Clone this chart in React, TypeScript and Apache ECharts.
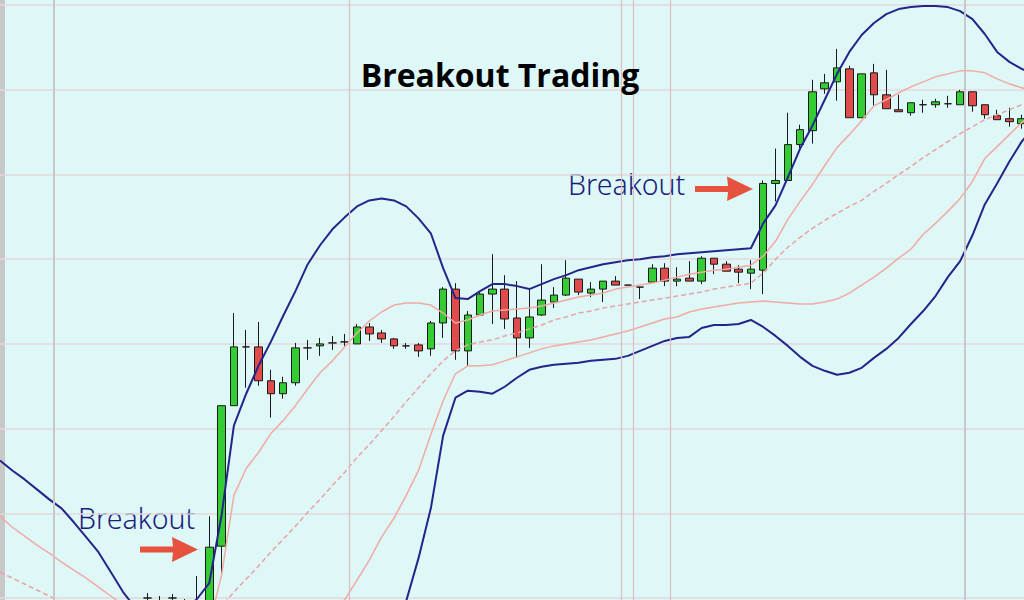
import { useEffect, useRef } from "react";
import * as echarts from "echarts";

// Categories (trading sessions); candles start at session index 12
const categories: string[] = Array.from({ length: 85 }, (_, i) => `S${i + 1}`);
const FIRST_CANDLE = 12;

// Candles: [open, close, low, high] in price points
const candles: number[][] = [
  [0, 0, -6, 5], [-3, -3, -10, 2], [0, 0, -7, 4], [-6, -6, -14, -1], [-12, -5, -18, 22],
  [-17, 51, -22, 82], [52, 193, 24, 193], [193, 252, 193, 286], [252, 252, 211, 269], [252, 218, 213, 277],
  [218, 205, 181, 229], [205, 216, 200, 222], [216, 251, 213, 256], [251, 251, 239, 259], [253, 255, 243, 261],
  [256, 256, 249, 263], [257, 257, 253, 265], [255, 272, 255, 275], [272, 265, 258, 276], [266, 260, 256, 269],
  [260, 253, 250, 261], [253, 253, 250, 256], [254, 248, 242, 256], [250, 276, 243, 278], [276, 310, 261, 312],
  [310, 248, 239, 316], [248, 284, 232, 288], [284, 305, 283, 308], [305, 310, 275, 345], [310, 280, 270, 324],
  [281, 261, 241, 318], [261, 282, 251, 310], [284, 299, 283, 335], [297, 304, 291, 312], [304, 321, 303, 339],
  [320, 307, 304, 320], [306, 310, 302, 317], [310, 318, 297, 318], [318, 314, 314, 323], [314, 314, 314, 314],
  [312, 312, 300, 312], [317, 331, 317, 335], [331, 318, 313, 336], [318, 320, 313, 332], [321, 318, 318, 338],
  [318, 341, 315, 343], [341, 335, 325, 341], [335, 328, 328, 338], [330, 327, 316, 334], [326, 330, 310, 339],
  [329, 416, 305, 419], [416, 419, 398, 451], [419, 455, 419, 487], [455, 470, 450, 475], [469, 508, 456, 520],
  [511, 517, 506, 526], [518, 532, 499, 551], [531, 482, 482, 534], [482, 526, 482, 526], [527, 505, 493, 536],
  [505, 491, 491, 530], [490, 488, 488, 505], [487, 497, 484, 497], [495, 495, 487, 500], [495, 498, 492, 501],
  [496, 496, 492, 504], [495, 508, 495, 510], [508, 494, 488, 508], [495, 485, 481, 495], [484, 480, 480, 490],
  [481, 478, 473, 492], [476, 481, 471, 485],
];

// Bollinger bands (outer = navy, inner = pink, middle = dashed)
const upperBand = [138,128,119,109,99,90,76,61,46,26,6,-10,-22,-26,-22,-12,-1,15,83,173,205,233,257,283,308,335,354,370,382,393,399,401,399,393,381,366,331,301,300,308,315,315,313,310,315,320,324,329,332,335,337,339,340,342,343,345,346,347,348,349,350,351,376,394,422,451,474,500,526,548,565,577,586,591,593,594,594,593,589,581,566,548,538,531,526];
const upperInner = [82,71,62,53,45,36,28,20,11,2,-7,-17,-27,-35,-40,-42,-38,-27,23,103,130,146,165,178,193,210,226,238,252,266,278,287,294,296,296,294,286,276,279,284,288,289,290,291,293,296,299,302,304,306,310,312,314,316,319,322,325,327,329,330,332,334,343,358,380,398,415,434,452,465,479,494,500,507,513,518,523,526,529,529,527,521,516,512,509];
const middleBand = [26,20,14,8,2,-4,-10,-16,-22,-28,-34,-40,-46,-52,-56,-58,-54,-32,-8,6,19,32,46,59,72,86,99,113,126,141,154,168,182,197,211,225,238,248,254,257,259,263,266,270,274,279,282,286,288,291,293,295,297,299,301,303,305,307,310,312,314,316,326,340,352,362,371,379,386,393,399,408,416,425,433,442,450,458,466,473,480,485,490,495,499];
const lowerInner = [-30,-32,-34,-37,-41,-44,-48,-52,-55,-58,-61,-63,-65,-69,-72,-74,-70,-62,-52,-47,-42,-37,-32,-27,-22,-17,-12,-7,-2,18,38,61,80,103,128,164,198,225,233,233,234,238,242,246,250,253,255,257,259,262,265,268,272,276,280,282,287,290,292,294,296,297,298,297,296,295,295,297,300,306,314,322,331,341,350,365,376,388,401,418,441,453,465,477,488];
const lowerBand = [-102,-107,-112,-117,-122,-127,-132,-137,-142,-147,-152,-157,-162,-167,-170,-172,-170,-167,-162,-157,-152,-147,-142,-137,-132,-127,-122,-117,-112,-107,-102,-92,-47,-3,40,90,163,201,208,207,205,212,221,229,232,234,235,236,238,239,240,243,248,253,258,261,262,271,274,274,275,279,272,263,253,242,233,228,224,226,231,241,250,261,275,288,303,322,338,364,395,416,438,458,473];

// Vertical grid lines (session positions) and their kind
const vGridAt = [4.39, 28.35, 50.45, 51.42, 54.43, 78.39];
const vGridKind = ["grey", "pink", "pink", "pink", "pink", "grey"];

const TITLE = "Breakout Trading";
const ANNOTATION = "Breakout";

export default function App() {
  const ref = useRef<HTMLDivElement>(null);
  useEffect(() => {
    const chart = echarts.init(ref.current!, undefined, { renderer: "svg" });
    const candleData: any[] = [...Array(FIRST_CANDLE).fill("-"), ...candles];
    const navy = "#24248a";
    const pink = "#f2aaa3";
    const annotationStyle = {
      text: ANNOTATION,
      fontFamily: "Noto Sans",
      fontWeight: 300,
      fontSize: 28.5,
      fill: "#1c1d7c",
      align: "left",
      verticalAlign: "middle",
    };
    const option: any = {
      animation: false,
      backgroundColor: "#def7f7",
      title: {
        text: TITLE,
        left: 500,
        top: 58,
        textAlign: "center",
        padding: 0,
        textStyle: { fontFamily: "Open Sans", fontWeight: "bold", fontSize: 32, color: "#000" },
      },
      grid: { left: 0, top: -79.6, width: 1034, height: 762.3, outerBoundsMode: "none", containLabel: false },
      xAxis: [
        { type: "category", data: categories, boundaryGap: false, show: false },
        { type: "value", min: 0, max: 84, show: false },
      ],
      yAxis: {
        type: "value",
        min: -85,
        max: 680,
        interval: 85,
        axisLine: { show: false },
        axisTick: { show: false },
        axisLabel: { show: false },
        splitLine: { show: true, lineStyle: { color: "#e3d9db", width: 1.5 } },
      },
      series: [
        {
          type: "line",
          xAxisIndex: 1,
          data: [],
          silent: true,
          markLine: {
            silent: true,
            symbol: "none",
            label: { show: false },
            data: vGridAt.map((x, k) => ({
              xAxis: x,
              lineStyle:
                vGridKind[k] === "grey"
                  ? { color: "#cbc6c8", width: 2, type: "solid" }
                  : { color: "#dcbfc3", width: 1.2, type: "solid" },
            })),
          },
        },
        {
          type: "candlestick",
          data: candleData,
          barWidth: 8,
          z: 2,
          itemStyle: {
            color: "#33cc33",
            color0: "#e04b4b",
            borderColor: "#1a1a1a",
            borderColor0: "#1a1a1a",
            borderWidth: 1,
          },
        },
        { type: "line", data: upperBand, symbol: "none", z: 3, lineStyle: { color: navy, width: 2 } },
        { type: "line", data: lowerBand, symbol: "none", z: 3, lineStyle: { color: navy, width: 2 } },
        { type: "line", data: upperInner, symbol: "none", z: 3, lineStyle: { color: pink, width: 1.5 } },
        { type: "line", data: lowerInner, symbol: "none", z: 3, lineStyle: { color: pink, width: 1.5 } },
        {
          type: "line",
          data: middleBand,
          symbol: "none",
          z: 3,
          lineStyle: { color: "#eba2a2", width: 1.5, type: [5, 3] },
        },
      ],
      graphic: [
        { type: "rect", shape: { x: 0, y: 0, width: 5, height: 600 }, style: { fill: "#c8c8c8" }, silent: true },
        { type: "text", x: 78, y: 518, style: annotationStyle },
        { type: "text", x: 568, y: 184, style: annotationStyle },
        {
          type: "polygon",
          shape: { points: [[140, 546.5], [173, 546.5], [172, 537], [198, 549.5], [172, 562], [173, 552.5], [140, 552.5]] },
          style: { fill: "#e5533f" },
        },
        {
          type: "polygon",
          shape: { points: [[695, 186], [728, 186], [727, 176.5], [753, 189], [727, 201], [728, 192], [695, 192]] },
          style: { fill: "#e5533f" },
        },
      ],
    };
    chart.setOption(option);
    return () => chart.dispose();
  }, []);
  return <div ref={ref} style={{ position: "fixed", left: 0, top: 0, width: 1024, height: 600 }} />;
}
